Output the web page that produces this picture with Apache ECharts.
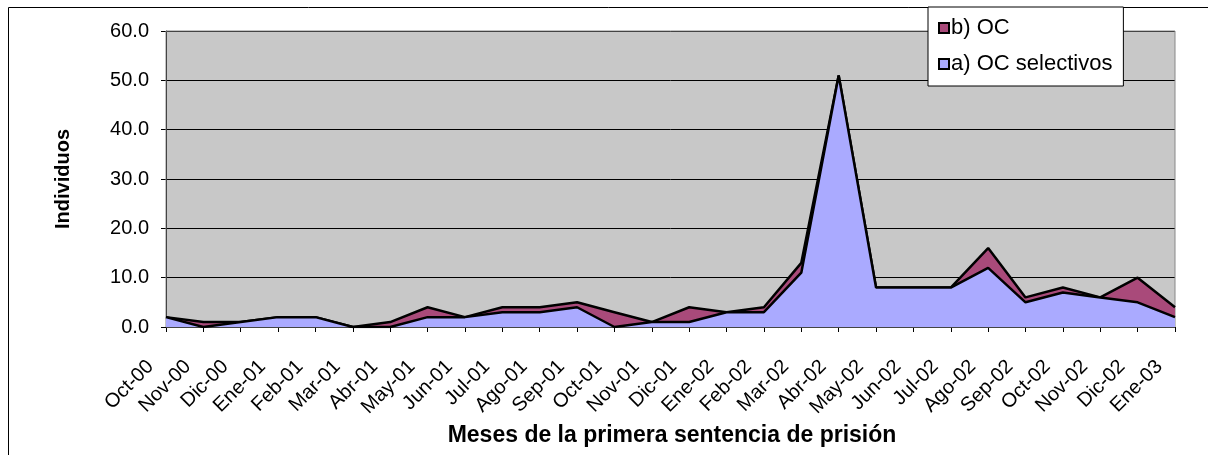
<!DOCTYPE html>
<html>
<head>
<meta charset="utf-8">
<title>Individuos por mes</title>
<script src="https://cdn.jsdelivr.net/npm/echarts@6/dist/echarts.min.js"></script>
<style>
  html, body {
    margin: 0;
    padding: 0;
    background: #FFF;
  }
  #myArea {
    width: 1208px;
    height: 455px;
  }
</style>
</head>
<body>
<div id="myArea"></div>
<script>
  // meses (eje x)
  let categories = ['Oct-00', 'Nov-00', 'Dic-00', 'Ene-01', 'Feb-01', 'Mar-01', 'Abr-01', 'May-01', 'Jun-01', 'Jul-01',
    'Ago-01', 'Sep-01', 'Oct-01', 'Nov-01', 'Dic-01', 'Ene-02', 'Feb-02', 'Mar-02', 'Abr-02', 'May-02',
    'Jun-02', 'Jul-02', 'Ago-02', 'Sep-02', 'Oct-02', 'Nov-02', 'Dic-02', 'Ene-03'];
  // a) OC selectivos (abajo)
  let selectivos = [2, 0, 1, 2, 2, 0, 0, 2, 2, 3, 3, 4, 0, 1, 1, 3, 3, 11, 51, 8, 8, 8, 12, 5, 7, 6, 5, 2];
  // b) OC (apilado encima)
  let oc = [0, 1, 0, 0, 0, 0, 1, 2, 0, 1, 1, 1, 3, 0, 3, 0, 1, 2, 0, 0, 0, 0, 4, 1, 1, 0, 5, 2];
  let yTicks = [0, 10, 20, 30, 40, 50, 60];

  let fontFamily = 'Liberation Sans, Arial, sans-serif';
  let myArea = echarts.init(document.getElementById('myArea'));

  let option = {
    backgroundColor: '#FFF',
    animation: false,
    textStyle: {
      fontFamily: fontFamily,
      color: '#000'
    },
    graphic: [
      { // marco exterior
        type: 'rect',
        shape: { x: 8.5, y: 7.5, width: 1220, height: 470 },
        style: { fill: null, stroke: '#000', lineWidth: 1 },
        z: -1
      },
      { // marco del area de trazado
        type: 'rect',
        shape: { x: 166, y: 31, width: 1009, height: 296 },
        style: { fill: null, stroke: '#888', lineWidth: 1 },
        z: 1
      },
      { // titulo eje x
        type: 'text',
        style: {
          x: 672,
          y: 436,
          text: 'Meses de la primera sentencia de prisión',
          font: 'bold 23px ' + fontFamily,
          fill: '#000',
          textAlign: 'center',
          textVerticalAlign: 'middle'
        }
      }
    ],
    grid: {
      left: 166,
      right: 33,
      top: 31,
      bottom: 128,
      show: true,
      backgroundColor: '#C8C8C8',
      borderWidth: 0
    },
    legend: {
      data: ['b) OC', 'a) OC selectivos'],
      orient: 'vertical',
      left: 928,
      top: 7,
      backgroundColor: '#FFF',
      borderColor: '#000',
      borderWidth: 1,
      padding: [10, 11, 11, 10],
      itemGap: 14,
      itemWidth: 10,
      itemHeight: 10,
      icon: 'rect',
      textStyle: {
        fontSize: 22,
        color: '#000',
        padding: [0, 0, 0, -3]
      }
    },
    xAxis: {
      type: 'category',
      data: categories,
      boundaryGap: false,
      axisLine: { lineStyle: { color: '#000', width: 1 } },
      axisTick: { show: true, interval: 0, length: 5, lineStyle: { color: '#000' } },
      axisLabel: {
        interval: 0,
        rotate: 45,
        fontSize: 20,
        color: '#000',
        margin: 21,
        padding: [0, 22, 0, 0]
      }
    },
    yAxis: {
      type: 'value',
      min: yTicks[0],
      max: yTicks[yTicks.length - 1],
      interval: 10,
      name: 'Individuos',
      nameLocation: 'middle',
      nameGap: 93,
      nameTextStyle: {
        fontSize: 20,
        fontWeight: 'bold',
        color: '#000'
      },
      axisLine: { show: true, lineStyle: { color: '#000' } },
      axisTick: { show: true, length: 5, lineStyle: { color: '#000' } },
      splitLine: { show: true, lineStyle: { color: '#000', width: 1 } },
      axisLabel: {
        fontSize: 20,
        color: '#000',
        margin: 17,
        formatter: function (v) { return v.toFixed(1); }
      }
    },
    series: [
      {
        name: 'a) OC selectivos',
        type: 'line',
        stack: 'total',
        data: selectivos,
        symbol: 'none',
        lineStyle: { color: '#000', width: 2.5 },
        itemStyle: { color: '#AAAAFF', borderColor: '#000', borderWidth: 1 },
        areaStyle: { color: '#AAAAFF', opacity: 1 },
        z: 3
      },
      {
        name: 'b) OC',
        type: 'line',
        stack: 'total',
        data: oc,
        symbol: 'none',
        lineStyle: { color: '#000', width: 2.5 },
        itemStyle: { color: '#A94A7A', borderColor: '#000', borderWidth: 1 },
        areaStyle: { color: '#A94A7A', opacity: 1 },
        z: 2
      }
    ]
  };

  myArea.setOption(option);
</script>
</body>
</html>
